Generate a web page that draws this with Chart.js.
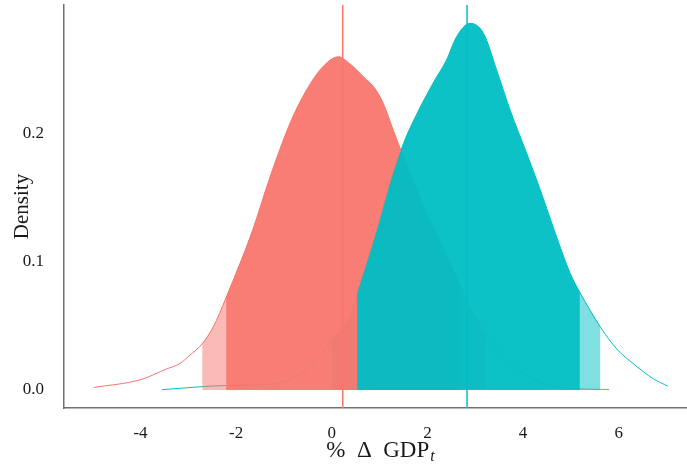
<!DOCTYPE html>
<html>
<head>
<meta charset="utf-8">
<script src="https://cdn.jsdelivr.net/npm/chart.js@4.4.1/dist/chart.umd.min.js"></script>
<style>
  html, body { margin: 0; padding: 0; background: #fff; }
  #wrap { width: 687px; height: 464px; }
</style>
</head>
<body>
<div id="wrap"><canvas id="chart"></canvas></div>
<script>
// density curves (x = % change of GDP, y = density)
const redX = [-4.98, -4.0, -3.45, -3.18, -2.97, -2.71, -2.48, -2.21, -1.66, -1.29, -0.87, -0.53, -0.18, 0.14, 0.38, 0.66, 0.9, 1.08, 1.29, 1.5, 1.78, 2.16, 2.68, 2.81, 3.21, 3.66, 4.36, 5.05, 5.8];
const redY = [0.002, 0.008, 0.0165, 0.0205, 0.027, 0.036, 0.049, 0.072, 0.124, 0.166, 0.208, 0.2335, 0.252, 0.2595, 0.254, 0.244, 0.235, 0.223, 0.202, 0.1815, 0.1556, 0.124, 0.082, 0.07, 0.044, 0.023, 0.006, 0.0012, 0.0004];
const tealX = [-3.55, -2.2, -1.36, -0.66, -0.32, 0.0, 0.38, 0.53, 0.94, 1.22, 1.5, 1.78, 2.12, 2.4, 2.61, 2.89, 3.17, 3.45, 3.73, 4.08, 4.36, 4.63, 4.99, 5.19, 5.62, 5.96, 6.31, 6.73, 7.03];
const tealY = [0.0003, 0.0035, 0.0043, 0.0126, 0.0245, 0.0386, 0.0568, 0.075, 0.124, 0.161, 0.192, 0.215, 0.239, 0.257, 0.275, 0.2855, 0.278, 0.249, 0.218, 0.184, 0.156, 0.127, 0.0906, 0.076, 0.049, 0.032, 0.0204, 0.0087, 0.003];

// shaded limits: outer low, inner low, inner high, outer high
const redBands = [-2.71, -2.21, 2.68, 3.21];
const tealBands = [0.0, 0.53, 5.19, 5.62];
const redMean = 0.23;
const tealMean = 2.83;

const xTicks = [-4, -2, 0, 2, 4, 6];
const yTicks = [0, 0.1, 0.2];
const xMin = -5.6, xMax = 7.43;
const yMin = -0.014, yMax = 0.2998;

const xTitle = "%\u2002Δ\u2002GDP";
const xTitleSub = "t";
const yTitle = "Density";

const RED = "#F8766D", TEAL = "#00BFC4";
const FONT = "'Liberation Serif', 'DejaVu Serif', serif";

const toPoints = (xs, ys) => xs.map((x, i) => ({ x, y: ys[i] }));
const slice = (pts, a, b) => pts.filter(p => p.x >= a - 1e-9 && p.x <= b + 1e-9);

const redPts = toPoints(redX, redY);
const tealPts = toPoints(tealX, tealY);

// layer: higher number is drawn on top
function curve(data, color, layer) {
  return { data, borderColor: color, borderWidth: 1, fill: false, order: -layer };
}
function area(data, fillColor, layer) {
  return { data, borderWidth: 0, borderColor: "rgba(0,0,0,0)", backgroundColor: fillColor, fill: "origin", order: -layer };
}
function vline(x, color, layer) {
  return { data: [{ x, y: yMin }, { x, y: yMax }], borderColor: color, borderWidth: 1.5, fill: false, tension: 0, order: -layer };
}

const datasets = [
  curve(redPts, RED, 1),
  curve(tealPts, TEAL, 2),
  area(slice(redPts, redBands[0], redBands[1]), "rgba(248,118,109,0.5)", 3),
  area(slice(redPts, redBands[2], redBands[3]), "rgba(248,118,109,0.5)", 3),
  area(slice(tealPts, tealBands[0], tealBands[1]), "rgba(0,191,196,0.5)", 4),
  area(slice(tealPts, tealBands[2], tealBands[3]), "rgba(0,191,196,0.5)", 4),
  area(slice(redPts, redBands[1], redBands[2]), "rgba(248,118,109,0.95)", 5),
  area(slice(tealPts, tealBands[1], tealBands[2]), "rgba(0,191,196,0.95)", 6),
  vline(redMean, RED, 7),
  vline(tealMean, TEAL, 8)
];

// x axis title has a subscript, so it is drawn by hand
const xTitlePlugin = {
  id: "xTitle",
  afterDraw(chart) {
    const ctx = chart.ctx;
    const { left, right } = chart.chartArea;
    ctx.save();
    ctx.fillStyle = "#1a1a1a";
    ctx.textAlign = "left";
    ctx.textBaseline = "alphabetic";
    ctx.font = "23px " + FONT;
    const w1 = ctx.measureText(xTitle).width;
    ctx.font = "italic 16px " + FONT;
    const w2 = ctx.measureText(xTitleSub).width;
    const x0 = (left + right) / 2 + 5 - (w1 + w2 + 1) / 2;
    ctx.font = "23px " + FONT;
    ctx.fillText(xTitle, x0, 457);
    ctx.font = "italic 16px " + FONT;
    ctx.fillText(xTitleSub, x0 + w1 + 1, 461);
    ctx.restore();
  }
};

new Chart(document.getElementById("chart"), {
  type: "line",
  data: { datasets },
  options: {
    responsive: true,
    maintainAspectRatio: false,
    animation: false,
    elements: {
      point: { radius: 0, hoverRadius: 0 },
      line: { cubicInterpolationMode: "monotone", capBezierPoints: true }
    },
    layout: { autoPadding: false, padding: { top: 5, right: 0, bottom: 0, left: 0 } },
    plugins: { legend: { display: false }, tooltip: { enabled: false } },
    scales: {
      x: {
        type: "linear",
        min: xMin,
        max: xMax,
        grid: { display: false },
        border: { display: true, color: "#707070", width: 1.5 },
        afterBuildTicks: axis => { axis.ticks = xTicks.map(value => ({ value })); },
        afterFit: scale => { scale.height = 56; scale.paddingLeft = 0; scale.paddingRight = 0; },
        ticks: {
          color: "#1a1a1a",
          padding: 7,
          maxRotation: 0,
          font: { family: FONT, size: 17 },
          callback: v => String(v)
        }
      },
      y: {
        type: "linear",
        min: yMin,
        max: yMax,
        grid: { display: false },
        border: { display: true, color: "#707070", width: 1.5 },
        afterBuildTicks: axis => { axis.ticks = yTicks.map(value => ({ value })); },
        afterFit: scale => { scale.width = 64; scale.paddingTop = 0; scale.paddingBottom = 0; },
        ticks: {
          color: "#1a1a1a",
          padding: 12,
          font: { family: FONT, size: 17 },
          callback: v => Number(v).toFixed(1)
        },
        title: {
          display: true,
          text: yTitle,
          color: "#1a1a1a",
          padding: { top: 10, bottom: 0 },
          font: { family: FONT, size: 21 }
        }
      }
    }
  },
  plugins: [xTitlePlugin]
});
</script>
</body>
</html>
